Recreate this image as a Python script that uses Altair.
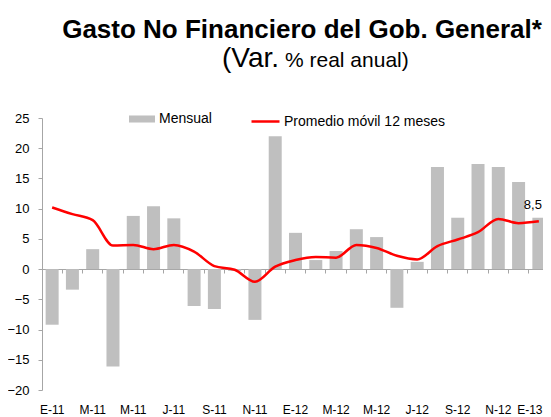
import altair as alt
import pandas as pd

# Titles
title_text = "Gasto No Financiero del Gob. General*"
subtitle_parts = ["(Var.", "% real anual)"]

# Month labels (E-11 ... E-13)
months = ["E-11", "F-11", "M-11", "A-11", "M-11", "J-11", "J-11", "A-11", "S-11", "O-11", "N-11", "D-11",
          "E-12", "F-12", "M-12", "A-12", "M-12", "J-12", "J-12", "A-12", "S-12", "O-12", "N-12", "D-12",
          "E-13"]
# Monthly real annual % change
mensual = [-9.2, -3.4, 3.3, -16.1, 8.8, 10.4, 8.4, -6.1, -6.6, -0.3, -8.4, 22.0,
           6.0, 1.5, 3.0, 6.6, 5.3, -6.4, 1.2, 16.9, 8.5, 17.4, 16.9, 14.4,
           8.5]
# 12-month moving average
promedio = [10.2, 9.1, 8.1, 3.9, 4.0, 3.3, 4.0, 2.9, 0.5, -0.1, -2.1, 0.4,
            1.5, 2.0, 1.9, 4.0, 3.5, 2.2, 1.6, 3.8, 4.9, 6.1, 8.3, 7.6,
            7.9]
last_label = "8,5"

df = pd.DataFrame({
    "idx": list(range(len(months))),
    "mes": months,
    "mensual": mensual,
    "promedio": promedio,
})

FONT = "Liberation Sans"
AXIS_GRAY = "#A6A6A6"
label_arr = "[" + ",".join("'" + m + "'" for m in months) + "]"
last_idx = len(months) - 1

x_label_axis = alt.Axis(
    orient="bottom", domain=False, ticks=False, labelPadding=14, labelFontSize=12,
    labelAngle=0, labelColor="#000000", labelFont=FONT, title=None, labelOverlap=False,
    labelExpr=f"datum.value % 2 == 0 ? {label_arr}[datum.value] : ''",
    labelOffset=alt.ExprRef(f"datum.value == {last_idx} ? -9 : 0"),
)
x_zero_axis = alt.Axis(
    orient="bottom", offset=-121, labels=False, domain=True, domainColor=AXIS_GRAY,
    domainWidth=1, ticks=True, tickColor=AXIS_GRAY, tickSize=4, bandPosition=0, title=None,
)

x_scale = alt.Scale(paddingInner=0, paddingOuter=0)
y_enc_scale = alt.Scale(domain=[-20, 25], nice=False, zero=False)
y_axis = alt.Axis(
    values=list(range(-20, 26, 5)), domainColor=AXIS_GRAY, tickColor=AXIS_GRAY, tickSize=4,
    labelPadding=9, labelFontSize=13, labelColor="#000000", labelFont=FONT, grid=False,
    title=None, labelOverlap=False, labelFlush=False,
)

base = alt.Chart(df)

bars = base.transform_calculate(serie="'Mensual'").mark_bar(size=13).encode(
    x=alt.X("idx:O", scale=x_scale, axis=x_label_axis),
    y=alt.Y("mensual:Q", scale=y_enc_scale, axis=y_axis),
    fill=alt.Fill(
        "serie:N",
        scale=alt.Scale(domain=["Mensual"], range=["#BFBFBF"]),
        legend=alt.Legend(
            orient="none", legendX=87, legendY=-12, direction="horizontal", title=None,
            labelFontSize=14, labelFont=FONT, labelColor="#000000", labelOffset=4,
            labelLimit=300,
            symbolType="M-1,-0.27L1,-0.27L1,0.27L-1,0.27Z", symbolSize=676,
            symbolStrokeWidth=0, padding=0,
        ),
    ),
)

line = base.transform_calculate(serie2="'Promedio móvil 12 meses'").mark_line(
    strokeWidth=2.5, interpolate="monotone"
).encode(
    x=alt.X("idx:O", scale=x_scale, axis=x_zero_axis),
    y=alt.Y("promedio:Q", scale=y_enc_scale, axis=y_axis),
    stroke=alt.Stroke(
        "serie2:N",
        scale=alt.Scale(domain=["Promedio móvil 12 meses"], range=["#FF0000"]),
        legend=alt.Legend(
            orient="none", legendX=208, legendY=-12, direction="horizontal", title=None,
            labelFontSize=14, labelFont=FONT, labelColor="#000000", labelOffset=3,
            labelLimit=300,
            symbolType="stroke", symbolSize=784, symbolStrokeWidth=2.5, padding=0,
        ),
    ),
)

text = base.transform_filter(f"datum.idx == {last_idx}").transform_calculate(
    lab=f"'{last_label}'"
).mark_text(
    baseline="bottom", align="center", dx=-6, dy=-6, fontSize=13, font=FONT, color="#000000"
).encode(
    x=alt.X("idx:O", scale=x_scale, axis=None),
    y=alt.Y("mensual:Q", scale=y_enc_scale, axis=y_axis),
    text="lab:N",
)

# Title and subtitle as text annotations (subtitle uses two font sizes)
title_mark = alt.Chart(pd.DataFrame({"t": [title_text]})).mark_text(
    font=FONT, fontSize=26, fontWeight="bold", align="center", baseline="alphabetic", color="#000000"
).encode(x=alt.value(260), y=alt.value(-80), text="t:N")

sub1 = alt.Chart(pd.DataFrame({"t": [subtitle_parts[0]]})).mark_text(
    font=FONT, fontSize=28, align="left", baseline="alphabetic", color="#000000"
).encode(x=alt.value(180), y=alt.value(-51), text="t:N")

sub2 = alt.Chart(pd.DataFrame({"t": [subtitle_parts[1]]})).mark_text(
    font=FONT, fontSize=21, align="left", baseline="alphabetic", color="#000000"
).encode(x=alt.value(243), y=alt.value(-51), text="t:N")

chart = alt.layer(bars, line, text, title_mark, sub1, sub2).resolve_axis(x="independent").properties(
    width=507,
    height=272,
    autosize=alt.AutoSizeParams(type="none"),
    padding={"left": 34, "top": 110, "right": -6, "bottom": 26},
).configure_view(stroke=None)

chart.save("out.html", embed_options={"renderer": "svg", "actions": False})
